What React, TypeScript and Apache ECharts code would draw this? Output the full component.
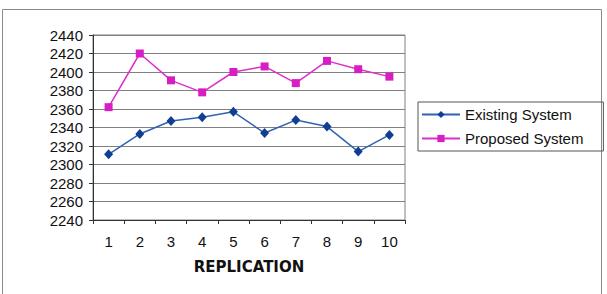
import React, { useEffect, useRef } from "react";
import * as echarts from "echarts";

const categories = ["1", "2", "3", "4", "5", "6", "7", "8", "9", "10"];
const existingSystem = [2311, 2333, 2347, 2351, 2357, 2334, 2348, 2341, 2314, 2332];
const proposedSystem = [2362, 2420, 2391, 2378, 2400, 2406, 2388, 2412, 2403, 2395];
const yMin = 2240;
const yMax = 2440;
const yStep = 20;

export default function App() {
  const ref = useRef<HTMLDivElement>(null);
  useEffect(() => {
    if (!ref.current) return;
    const chart = echarts.init(ref.current, undefined, { renderer: "svg" });
    const font = "'Liberation Sans', Arial, sans-serif";
    chart.setOption({
      animation: false,
      backgroundColor: "#ffffff",
      graphic: [
        {
          type: "rect",
          shape: { x: 2.5, y: 9.5, width: 599, height: 300 },
          style: { fill: "none", stroke: "#8a8a8a", lineWidth: 1 },
          silent: true,
        },
      ],
      grid: {
        left: 93,
        top: 35,
        width: 312,
        height: 185,
        show: true,
        borderColor: "#808080",
        borderWidth: 1,
        backgroundColor: "transparent",
      },
      xAxis: {
        type: "category",
        data: categories,
        boundaryGap: true,
        name: "REPLICATION",
        nameLocation: "middle",
        nameGap: 39,
        nameTextStyle: {
          fontFamily: "'DejaVu Sans', sans-serif",
          fontWeight: "bold",
          fontSize: 15,
          color: "#111",
        },
        axisLine: { show: true, lineStyle: { color: "#333", width: 1 } },
        axisTick: { show: true, length: 4, lineStyle: { color: "#333" } },
        axisLabel: { fontSize: 15, color: "#111", margin: 14, fontFamily: font },
        splitLine: { show: false },
      },
      yAxis: {
        type: "value",
        min: yMin,
        max: yMax,
        interval: yStep,
        axisLine: { show: true, lineStyle: { color: "#333", width: 1 } },
        axisTick: { show: true, length: 4, lineStyle: { color: "#333" } },
        axisLabel: {
          fontSize: 15,
          color: "#111",
          margin: 10,
          fontFamily: font,
          formatter: (v: number) => String(v),
        },
        splitLine: { show: true, lineStyle: { color: "#808080", width: 1 } },
      },
      legend: {
        orient: "vertical",
        left: 418,
        top: 102,
        borderColor: "#555",
        borderWidth: 1,
        padding: [5, 20, 5, 3],
        itemGap: 9,
        itemWidth: 38,
        itemHeight: 9,
        textStyle: { fontSize: 15, color: "#111", fontFamily: font },
        data: ["Existing System", "Proposed System"],
      },
      series: [
        {
          name: "Existing System",
          type: "line",
          data: existingSystem,
          symbol: "diamond",
          symbolSize: [9, 10],
          lineStyle: { color: "#3063B0", width: 1.5 },
          itemStyle: { color: "#0F3E93" },
        },
        {
          name: "Proposed System",
          type: "line",
          data: proposedSystem,
          symbol: "rect",
          symbolSize: 8,
          lineStyle: { color: "#DD2FCB", width: 1.5 },
          itemStyle: { color: "#D91DC4" },
        },
      ],
    });
    return () => chart.dispose();
  }, []);
  return (
    <div
      ref={ref}
      style={{ position: "fixed", left: 0, top: 0, width: 607, height: 294 }}
    />
  );
}
